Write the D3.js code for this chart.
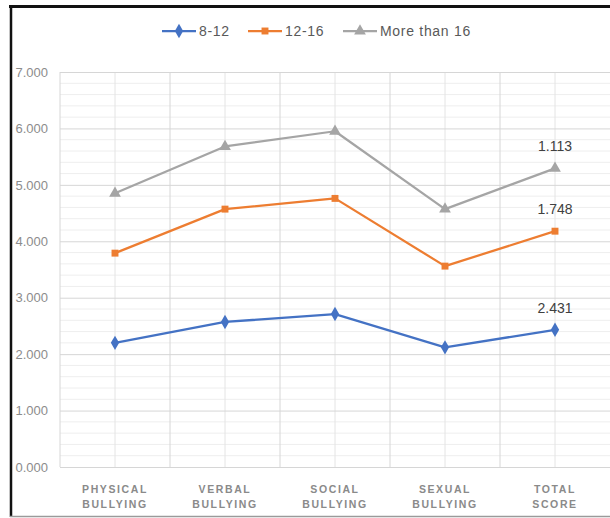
<!DOCTYPE html>
<html>
<head>
<meta charset="utf-8">
<script src="https://cdn.jsdelivr.net/npm/d3@7"></script>
<style>
  html, body { margin: 0; padding: 0; background: #fff; }
  svg { display: block; }
</style>
</head>
<body>
<svg id="chart" width="610" height="518"></svg>
<script>
// Bullying scores by age group, drawn as a stacked line chart
const categories = ["PHYSICAL BULLYING", "VERBAL BULLYING", "SOCIAL BULLYING", "SEXUAL BULLYING", "TOTAL SCORE"];
const seriesNames = ["8-12", "12-16", "More than 16"];
const age8to12 = [2.20, 2.57, 2.71, 2.12, 2.431];
const age12to16 = [1.59, 2.00, 2.05, 1.44, 1.748];
const ageOver16 = [1.06, 1.11, 1.19, 1.01, 1.113];
const yTickValues = [0, 1, 2, 3, 4, 5, 6, 7];
const labelledCategory = "TOTAL SCORE";

const seriesColors = ["#4472C4", "#ED7D31", "#A5A5A5"];
const seriesSymbols = [d3.symbolDiamond, d3.symbolSquare, d3.symbolTriangle];
const symbolSizes = [60, 48, 60];

const rows = categories.map((c, i) => ({
  category: c,
  "8-12": age8to12[i],
  "12-16": age12to16[i],
  "More than 16": ageOver16[i]
}));
const stacked = d3.stack().keys(seriesNames)(rows);

const svg = d3.select("#chart");
const margin = { left: 60, right: 0, top: 72, bottom: 51 };
const W = 610, H = 518;
const font = "'Liberation Sans', Arial, sans-serif";

const x = d3.scaleBand().domain(categories).range([margin.left, W - margin.right]).padding(0);
const y = d3.scaleLinear().domain([0, 7]).range([H - margin.bottom, margin.top]);
const cx = c => x(c) + x.bandwidth() / 2;

// minor horizontal gridlines every 0.2
const g = svg.append("g");
g.selectAll("line.hminor")
  .data(d3.range(0, 7.0001, 0.2).filter(v => Math.abs(v - Math.round(v)) > 1e-6))
  .join("line")
  .attr("x1", margin.left).attr("x2", W)
  .attr("y1", d => y(d)).attr("y2", d => y(d))
  .attr("stroke", "#eeeeee").attr("stroke-width", 1);

// minor vertical gridlines through category centres
g.selectAll("line.vminor")
  .data(categories)
  .join("line")
  .attr("x1", d => cx(d)).attr("x2", d => cx(d))
  .attr("y1", y(7)).attr("y2", y(0))
  .attr("stroke", "#e4e4e4").attr("stroke-width", 1);

// major vertical gridlines on category boundaries
g.selectAll("line.vmajor")
  .data(categories.slice(1))
  .join("line")
  .attr("x1", d => x(d)).attr("x2", d => x(d))
  .attr("y1", y(7)).attr("y2", y(0))
  .attr("stroke", "#d6d6d6").attr("stroke-width", 1);

// y axis with major gridlines
const yAxis = d3.axisLeft(y).tickValues(yTickValues).tickFormat(d3.format(".3f"))
  .tickSize(-(W - margin.left)).tickPadding(12);
const ya = svg.append("g").attr("transform", `translate(${margin.left},0)`).call(yAxis);
ya.select(".domain").remove();
ya.selectAll(".tick line").attr("stroke", "#d6d6d6");
ya.selectAll(".tick text")
  .attr("fill", "#8c8c8c")
  .style("font-family", font)
  .style("font-size", "13px");

// plot left edge
svg.append("line")
  .attr("x1", margin.left).attr("x2", margin.left)
  .attr("y1", y(7)).attr("y2", y(0))
  .attr("stroke", "#d6d6d6");

// category labels, two lines each
const xl = svg.append("g");
categories.forEach(c => {
  const t = xl.append("text")
    .attr("x", cx(c)).attr("y", 493)
    .attr("text-anchor", "middle")
    .attr("fill", "#8a8a8a")
    .style("font-family", font)
    .style("font-size", "10.5px")
    .style("font-weight", "bold")
    .style("letter-spacing", "1.6px");
  c.split(" ").forEach((w, i) => {
    t.append("tspan").attr("x", cx(c)).attr("dy", i === 0 ? 0 : 15).text(w);
  });
});

// series lines and markers
const line = d3.line().x(d => cx(d.data.category)).y(d => y(d[1]));
stacked.forEach((s, i) => {
  svg.append("path")
    .datum(s)
    .attr("fill", "none")
    .attr("stroke", seriesColors[i])
    .attr("stroke-width", 2.25)
    .attr("stroke-linejoin", "round")
    .attr("d", line);
  svg.selectAll(null)
    .data(s)
    .join("path")
    .attr("transform", d => `translate(${cx(d.data.category)},${y(d[1])})`)
    .attr("d", d3.symbol().type(seriesSymbols[i]).size(symbolSizes[i]))
    .attr("fill", seriesColors[i]);
  // value label on the last column: the series' own value
  const last = s.find(d => d.data.category === labelledCategory);
  svg.append("text")
    .attr("x", cx(labelledCategory)).attr("y", y(last[1]) - 17)
    .attr("text-anchor", "middle")
    .attr("fill", "#404040")
    .style("font-family", font)
    .style("font-size", "14px")
    .text(d3.format(".3f")(last[1] - last[0]));
});

// legend
const legendX = [162, 248, 343];
const lg = svg.append("g");
seriesNames.forEach((n, i) => {
  const gx = legendX[i], gy = 31;
  lg.append("line")
    .attr("x1", gx).attr("x2", gx + 34).attr("y1", gy).attr("y2", gy)
    .attr("stroke", seriesColors[i]).attr("stroke-width", 2.25);
  lg.append("path")
    .attr("transform", `translate(${gx + 17},${gy})`)
    .attr("d", d3.symbol().type(seriesSymbols[i]).size(symbolSizes[i]))
    .attr("fill", seriesColors[i]);
  lg.append("text")
    .attr("x", gx + 37).attr("y", gy + 5)
    .attr("fill", "#595959")
    .style("font-family", font)
    .style("font-size", "14px")
    .style("letter-spacing", "0.7px")
    .text(n);
});

// outer frame
svg.append("line").attr("x1", 9).attr("x2", W).attr("y1", 6.5).attr("y2", 6.5)
  .attr("stroke", "#111").attr("stroke-width", 3);
svg.append("line").attr("x1", 11).attr("x2", 11).attr("y1", 5).attr("y2", 517)
  .attr("stroke", "#111").attr("stroke-width", 2.5);
svg.append("line").attr("x1", 10).attr("x2", W).attr("y1", 516.5).attr("y2", 516.5)
  .attr("stroke", "#9a9a9a").attr("stroke-width", 1.5);
</script>
</body>
</html>
